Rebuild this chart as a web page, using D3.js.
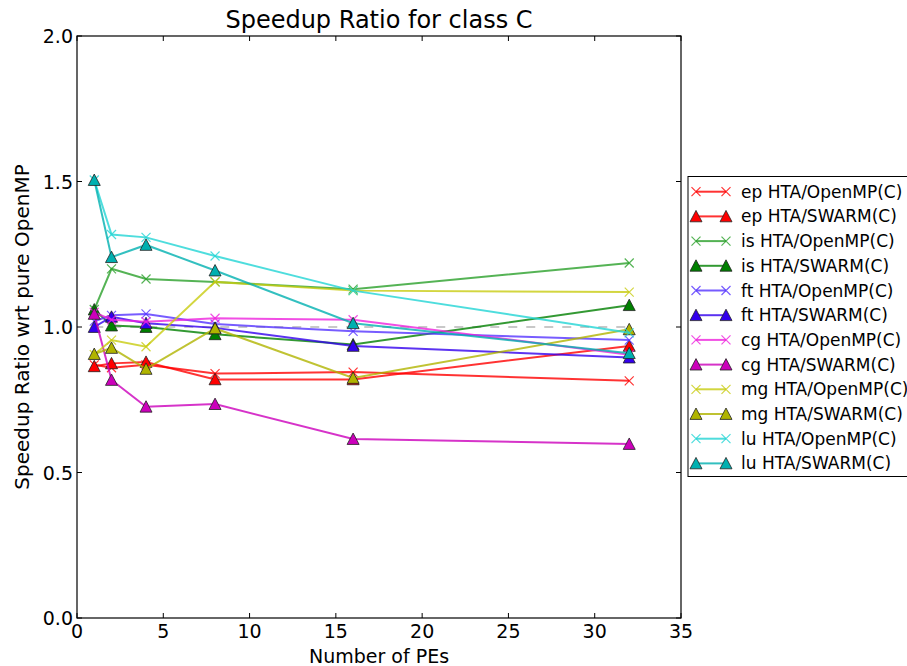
<!DOCTYPE html>
<html>
<head>
<meta charset="utf-8">
<script src="https://cdnjs.cloudflare.com/ajax/libs/d3/7.8.5/d3.min.js"></script>
<style>
  body { margin: 0; background: #fff; }
  svg { display: block; font-family: "DejaVu Sans", sans-serif; }
</style>
</head>
<body>
<svg width="907" height="666"></svg>
<script>
// number of processing elements on the x axis
var pes = [1, 2, 4, 8, 16, 32];

// speedup ratios
var epOpenMP = [0.87, 0.86, 0.87, 0.84, 0.845, 0.815];
var epSwarm  = [0.865, 0.875, 0.88, 0.82, 0.82, 0.935];
var isOpenMP = [1.06, 1.2, 1.165, 1.155, 1.13, 1.22];
var isSwarm  = [1.06, 1.005, 1.0, 0.975, 0.94, 1.075];
var ftOpenMP = [1.02, 1.04, 1.045, 1.01, 0.985, 0.955];
var ftSwarm  = [1.0, 1.035, 1.013, 0.997, 0.935, 0.895];
var cgOpenMP = [1.05, 1.025, 1.018, 1.03, 1.025, 0.905];
var cgSwarm  = [1.045, 0.818, 0.726, 0.735, 0.615, 0.598];
var mgOpenMP = [0.905, 0.955, 0.932, 1.155, 1.125, 1.12];
var mgSwarm  = [0.907, 0.928, 0.856, 0.995, 0.825, 0.992];
var luOpenMP = [1.505, 1.318, 1.308, 1.244, 1.125, 0.98];
var luSwarm  = [1.505, 1.24, 1.282, 1.194, 1.013, 0.91];

var xTicks = [0, 5, 10, 15, 20, 25, 30, 35];
var yTicks = [0.0, 0.5, 1.0, 1.5, 2.0];

var series = [
  {name: "ep HTA/OpenMP(C)", values: epOpenMP, color: "#ff0000", marker: "x"},
  {name: "ep HTA/SWARM(C)",  values: epSwarm,  color: "#ff0000", marker: "tri"},
  {name: "is HTA/OpenMP(C)", values: isOpenMP, color: "#2aa02a", marker: "x"},
  {name: "is HTA/SWARM(C)",  values: isSwarm,  color: "#008000", marker: "tri"},
  {name: "ft HTA/OpenMP(C)", values: ftOpenMP, color: "#5533ff", marker: "x"},
  {name: "ft HTA/SWARM(C)",  values: ftSwarm,  color: "#3300ee", marker: "tri"},
  {name: "cg HTA/OpenMP(C)", values: cgOpenMP, color: "#ee22dd", marker: "x"},
  {name: "cg HTA/SWARM(C)",  values: cgSwarm,  color: "#cc00bb", marker: "tri"},
  {name: "mg HTA/OpenMP(C)", values: mgOpenMP, color: "#c8cc10", marker: "x"},
  {name: "mg HTA/SWARM(C)",  values: mgSwarm,  color: "#b0b400", marker: "tri"},
  {name: "lu HTA/OpenMP(C)", values: luOpenMP, color: "#22d4d4", marker: "x"},
  {name: "lu HTA/SWARM(C)",  values: luSwarm,  color: "#00b0b0", marker: "tri"}
];

var svg = d3.select("svg");
var plotLeft = 77, plotRight = 681, plotTop = 36, plotBottom = 618;

var x = d3.scaleLinear().domain([0, 35]).range([plotLeft, plotRight]);
var y = d3.scaleLinear().domain([0, 2]).range([plotBottom, plotTop]);

// reference line at 1.0
svg.append("line")
  .attr("x1", x(1)).attr("x2", x(32))
  .attr("y1", y(1)).attr("y2", y(1))
  .style("stroke", "#bbbbbb").style("stroke-width", 2)
  .style("stroke-dasharray", "9,9").style("opacity", 0.8);

var line = d3.line()
  .x(function (d, i) { return x(pes[i]); })
  .y(function (d) { return y(d); });

function drawMarker(g, type, cx, cy, color) {
  if (type == "x") {
    var s = 4.5;
    g.append("path")
      .attr("d", "M" + (cx - s) + "," + (cy - s) + "L" + (cx + s) + "," + (cy + s) +
                 "M" + (cx - s) + "," + (cy + s) + "L" + (cx + s) + "," + (cy - s))
      .style("stroke", color).style("stroke-width", 1.2).style("opacity", 0.8)
      .style("fill", "none");
  } else {
    var h = 6;
    g.append("path")
      .attr("d", "M" + cx + "," + (cy - h) + "L" + (cx + h) + "," + (cy + h * 0.9) +
                 "L" + (cx - h) + "," + (cy + h * 0.9) + "Z")
      .style("fill", color).style("stroke", "#222").style("stroke-width", 0.8);
  }
}

var plot = svg.append("g");
series.forEach(function (s) {
  var g = plot.append("g");
  g.append("path")
    .datum(s.values)
    .attr("d", line)
    .style("fill", "none")
    .style("stroke", s.color)
    .style("stroke-width", 2)
    .style("opacity", 0.8);
  s.values.forEach(function (v, i) {
    drawMarker(g, s.marker, x(pes[i]), y(v), s.color);
  });
});

// frame and ticks on all four sides, pointing inward
var axisG = svg.append("g").style("font-size", "19px");
axisG.append("rect")
  .attr("x", plotLeft).attr("y", plotTop)
  .attr("width", plotRight - plotLeft).attr("height", plotBottom - plotTop)
  .style("fill", "none").style("stroke", "#000").style("stroke-width", 1.2);

xTicks.forEach(function (t) {
  axisG.append("line").attr("x1", x(t)).attr("x2", x(t))
    .attr("y1", plotBottom).attr("y2", plotBottom - 5).style("stroke", "#000");
  axisG.append("line").attr("x1", x(t)).attr("x2", x(t))
    .attr("y1", plotTop).attr("y2", plotTop + 5).style("stroke", "#000");
  axisG.append("text").attr("x", x(t)).attr("y", plotBottom + 20)
    .attr("text-anchor", "middle").text(t);
});
yTicks.forEach(function (t) {
  axisG.append("line").attr("x1", plotLeft).attr("x2", plotLeft + 5)
    .attr("y1", y(t)).attr("y2", y(t)).style("stroke", "#000");
  axisG.append("line").attr("x1", plotRight).attr("x2", plotRight - 5)
    .attr("y1", y(t)).attr("y2", y(t)).style("stroke", "#000");
  axisG.append("text").attr("x", plotLeft - 4).attr("y", y(t) + 7)
    .attr("text-anchor", "end").text(d3.format(".1f")(t));
});

svg.append("text").attr("x", (plotLeft + plotRight) / 2).attr("y", 28)
  .attr("text-anchor", "middle").style("font-size", "24px")
  .text("Speedup Ratio for class C");
svg.append("text").attr("x", (plotLeft + plotRight) / 2).attr("y", 663)
  .attr("text-anchor", "middle").style("font-size", "19px")
  .text("Number of PEs");
svg.append("text")
  .attr("transform", "translate(29," + ((plotTop + plotBottom) / 2) + ") rotate(-90)")
  .attr("text-anchor", "middle").style("font-size", "20px")
  .text("Speedup Ratio wrt pure OpenMP");

// legend
var legend = svg.append("g");
legend.append("rect")
  .attr("x", 688).attr("y", 176.5).attr("width", 240).attr("height", 300)
  .style("fill", "#fff").style("stroke", "#000").style("stroke-width", 1);
series.forEach(function (s, i) {
  var ly = 191.7 + i * 24.7;
  legend.append("line").attr("x1", 696).attr("x2", 726)
    .attr("y1", ly).attr("y2", ly)
    .style("stroke", s.color).style("stroke-width", 2).style("opacity", 0.8);
  drawMarker(legend, s.marker, 696, ly, s.color);
  drawMarker(legend, s.marker, 726, ly, s.color);
  legend.append("text").attr("x", 741).attr("y", ly + 6)
    .style("font-size", "17px").text(s.name);
});
</script>
</body>
</html>
